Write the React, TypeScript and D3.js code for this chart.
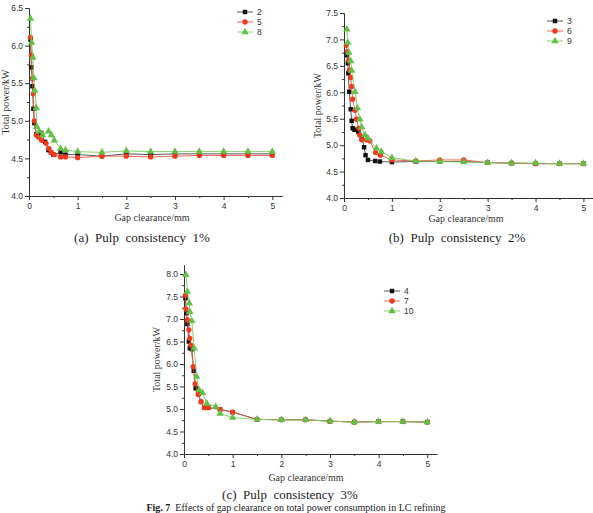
import React, { useEffect, useRef } from 'react';
import * as d3 from 'd3';

// (a) pulp consistency 1%  -> runs 2, 5, 8
const gapA2 = [0.03, 0.05, 0.07, 0.09, 0.11, 0.15, 0.2, 0.25, 0.33, 0.4, 0.45, 0.5, 0.65, 0.75, 1, 1.5, 2, 2.5, 3, 3.5, 4, 4.5, 5];
const powerA2 = [6.08, 5.71, 5.46, 5.16, 4.97, 4.82, 4.82, 4.84, 4.72, 4.61, 4.58, 4.55, 4.58, 4.55, 4.55, 4.53, 4.56, 4.55, 4.56, 4.56, 4.56, 4.56, 4.56];
const gapA5 = [0.03, 0.05, 0.07, 0.09, 0.11, 0.15, 0.2, 0.26, 0.35, 0.41, 0.46, 0.52, 0.65, 0.75, 1, 1.5, 2, 2.5, 3, 3.5, 4, 4.5, 5];
const powerA5 = [6.11, 5.87, 5.56, 5.36, 5.0, 4.81, 4.78, 4.74, 4.7, 4.63, 4.58, 4.55, 4.52, 4.52, 4.51, 4.53, 4.53, 4.52, 4.53, 4.54, 4.54, 4.54, 4.54];
const gapA8 = [0.03, 0.055, 0.08, 0.1, 0.12, 0.15, 0.16, 0.21, 0.28, 0.4, 0.46, 0.52, 0.65, 0.75, 1, 1.5, 2, 2.5, 3, 3.5, 4, 4.5, 5];
const powerA8 = [6.36, 6.04, 5.84, 5.57, 5.4, 5.17, 4.92, 4.86, 4.81, 4.86, 4.81, 4.74, 4.63, 4.61, 4.59, 4.58, 4.6, 4.59, 4.59, 4.59, 4.59, 4.59, 4.59];
const namesA = ['2', '5', '8'];

// (b) pulp consistency 2%  -> runs 3, 6, 9
const gapB3 = [0.06, 0.08, 0.09, 0.11, 0.14, 0.16, 0.18, 0.22, 0.27, 0.3, 0.37, 0.42, 0.45, 0.5, 0.65, 0.75, 1, 1.5, 2, 2.5, 3, 3.5, 4, 4.5, 5];
const powerB3 = [6.7, 6.55, 6.36, 6.01, 5.68, 5.46, 5.32, 5.29, 5.29, 5.25, 5.15, 4.96, 4.81, 4.72, 4.7, 4.69, 4.68, 4.69, 4.69, 4.69, 4.67, 4.66, 4.65, 4.65, 4.65];
const gapB6 = [0.05, 0.07, 0.1, 0.12, 0.14, 0.16, 0.18, 0.23, 0.26, 0.31, 0.33, 0.37, 0.47, 0.54, 0.66, 0.76, 1, 1.5, 2, 2.5, 3, 3.5, 4, 4.5, 5];
const powerB6 = [6.89, 6.77, 6.6, 6.42, 6.28, 6.11, 5.87, 5.66, 5.49, 5.32, 5.19, 5.1, 5.1, 5.08, 4.86, 4.81, 4.72, 4.7, 4.72, 4.72, 4.67, 4.66, 4.65, 4.65, 4.65];
const gapB9 = [0.06, 0.08, 0.1, 0.14, 0.16, 0.23, 0.28, 0.33, 0.37, 0.44, 0.5, 0.68, 0.78, 1, 1.5, 2, 2.5, 3, 3.5, 4, 4.5, 5];
const powerB9 = [7.19, 6.94, 6.75, 6.59, 6.41, 6.01, 5.7, 5.49, 5.34, 5.19, 5.13, 4.94, 4.88, 4.76, 4.7, 4.69, 4.68, 4.67, 4.66, 4.66, 4.65, 4.65];
const namesB = ['3', '6', '9'];

// (c) pulp consistency 3%  -> runs 4, 7, 10
const gapC4 = [0.03, 0.05, 0.07, 0.1, 0.12, 0.16, 0.2, 0.24, 0.3, 0.35, 0.42, 0.5, 0.74, 1, 1.5, 2, 2.5, 3, 3.5, 4, 4.5, 5];
const powerC4 = [7.46, 7.13, 6.89, 6.5, 6.35, 6.33, 5.85, 5.46, 5.33, 5.16, 5.03, 5.03, 4.99, 4.93, 4.77, 4.76, 4.76, 4.73, 4.71, 4.72, 4.72, 4.71];
const gapC7 = [0.03, 0.04, 0.07, 0.1, 0.12, 0.14, 0.19, 0.23, 0.29, 0.35, 0.42, 0.5, 0.74, 1, 1.5, 2, 2.5, 3, 3.5, 4, 4.5, 5];
const powerC7 = [7.53, 7.22, 6.98, 6.76, 6.57, 6.42, 5.94, 5.56, 5.33, 5.16, 5.03, 5.03, 4.99, 4.93, 4.77, 4.76, 4.76, 4.73, 4.71, 4.72, 4.72, 4.71];
const gapC10 = [0.04, 0.07, 0.11, 0.12, 0.16, 0.21, 0.26, 0.31, 0.38, 0.47, 0.65, 0.74, 1, 1.5, 2, 2.5, 3, 3.5, 4, 4.5, 5];
const powerC10 = [7.98, 7.61, 7.35, 7.16, 6.96, 6.35, 5.72, 5.42, 5.36, 5.12, 5.05, 4.9, 4.81, 4.77, 4.76, 4.76, 4.73, 4.71, 4.72, 4.72, 4.71];
const namesC = ['4', '7', '10'];

const xMajor = [0, 1, 2, 3, 4, 5];
const xMinor = [0.5, 1.5, 2.5, 3.5, 4.5];

const COLORS = ['#111111', '#f2381d', '#63c046'];
const LINE_COLORS = ['#444444', '#f2553c', '#7acb5f'];
const SHAPES = [d3.symbolSquare, d3.symbolCircle, d3.symbolTriangle];
const SIZES = [20, 22, 24];

const SANS = "'Liberation Sans', Arial, sans-serif";
const SERIF = "'Liberation Serif', 'Times New Roman', serif";

interface Panel {
    series: { x: number[]; y: number[] }[];
    names: string[];
    yTop: number;
    x0: number; x1: number;   // pixel span of x axis
    y0: number; y1: number;   // pixel span of y axis (bottom, top)
    yTitleX: number;
    xTitle: [number, number];
    legend: [number, number];
    caption: string;
    captionPos: [number, number];
}

const panels: Panel[] = [
    {
        series: [{ x: gapA2, y: powerA2 }, { x: gapA5, y: powerA5 }, { x: gapA8, y: powerA8 }],
        names: namesA, yTop: 6.5,
        x0: 29, x1: 282, y0: 196, y1: 8,
        yTitleX: 5, xTitle: [152, 221], legend: [237, 12],
        caption: '(a)  Pulp  consistency  1%', captionPos: [142, 242],
    },
    {
        series: [{ x: gapB3, y: powerB3 }, { x: gapB6, y: powerB6 }, { x: gapB9, y: powerB9 }],
        names: namesB, yTop: 7.5,
        x0: 344, x1: 593, y0: 198, y1: 13,
        yTitleX: 317, xTitle: [466, 222], legend: [547, 21],
        caption: '(b)  Pulp  consistency  2%', captionPos: [457, 242],
    },
    {
        series: [{ x: gapC4, y: powerC4 }, { x: gapC7, y: powerC7 }, { x: gapC10, y: powerC10 }],
        names: namesC, yTop: 8.2,
        x0: 184, x1: 437, y0: 454, y1: 265,
        yTitleX: 156, xTitle: [306, 481], legend: [384, 291],
        caption: '(c)  Pulp  consistency  3%', captionPos: [290, 499],
    },
];

function drawPanel(g: d3.Selection<SVGGElement, unknown, null, undefined>, p: Panel) {
    const x = d3.scaleLinear().domain([0, 5.2]).range([p.x0, p.x1]);
    const y = d3.scaleLinear().domain([4, p.yTop]).range([p.y0, p.y1]);

    const yMajor = d3.range(4, p.yTop + 0.001, 0.5);
    const yMinor = d3.range(4.25, p.yTop, 0.5);

    const style = (sel: any) => {
        sel.select('.domain').attr('stroke', '#333').attr('stroke-width', 1);
        sel.selectAll('.tick line').attr('stroke', '#333');
        sel.selectAll('.tick text')
            .attr('fill', '#333')
            .style('font-family', SANS)
            .style('font-size', '8.5px');
    };

    // x axis
    g.append('g')
        .attr('transform', `translate(0,${p.y0})`)
        .call(d3.axisBottom(x).tickValues(xMinor).tickSize(2).tickSizeOuter(0).tickFormat(() => ''))
        .call(style);
    g.append('g')
        .attr('transform', `translate(0,${p.y0})`)
        .call(d3.axisBottom(x).tickValues(xMajor).tickSize(4).tickSizeOuter(0).tickPadding(3).tickFormat(d3.format('d')))
        .call(style);

    // y axis
    g.append('g')
        .attr('transform', `translate(${p.x0},0)`)
        .call(d3.axisLeft(y).tickValues(yMinor).tickSize(2).tickSizeOuter(0).tickFormat(() => ''))
        .call(style);
    g.append('g')
        .attr('transform', `translate(${p.x0},0)`)
        .call(d3.axisLeft(y).tickValues(yMajor).tickSize(4).tickSizeOuter(0).tickPadding(2).tickFormat(d3.format('.1f')))
        .call(style);

    // axis titles
    g.append('text')
        .attr('transform', `translate(${p.yTitleX},${(p.y0 + p.y1) / 2}) rotate(-90)`)
        .attr('text-anchor', 'middle')
        .attr('dy', '0.35em')
        .style('font-family', SERIF)
        .style('font-size', '10px')
        .attr('fill', '#333')
        .text('Total power/kW');
    g.append('text')
        .attr('x', p.xTitle[0])
        .attr('y', p.xTitle[1])
        .attr('text-anchor', 'middle')
        .style('font-family', SERIF)
        .style('font-size', '10px')
        .attr('fill', '#333')
        .text('Gap clearance/mm');

    // series
    p.series.forEach((s, i) => {
        const pts = s.x.map((v, k) => [v, s.y[k]] as [number, number]);
        const line = d3.line<[number, number]>().x(d => x(d[0])).y(d => y(d[1]));
        g.append('path')
            .datum(pts)
            .attr('fill', 'none')
            .attr('stroke', LINE_COLORS[i])
            .attr('stroke-width', 0.9)
            .attr('d', line);
        const sym = d3.symbol().type(SHAPES[i]).size(SIZES[i]);
        g.append('g').selectAll('path')
            .data(pts)
            .join('path')
            .attr('transform', d => `translate(${x(d[0])},${y(d[1])})`)
            .attr('d', sym as any)
            .attr('fill', COLORS[i]);
    });

    // legend
    const [lx, ly] = p.legend;
    p.names.forEach((name, i) => {
        const row = g.append('g').attr('transform', `translate(${lx},${ly + i * 10})`);
        row.append('line')
            .attr('x1', 0).attr('x2', 16)
            .attr('stroke', LINE_COLORS[i])
            .attr('stroke-width', 0.9);
        row.append('path')
            .attr('transform', 'translate(8,0)')
            .attr('d', d3.symbol().type(SHAPES[i]).size(SIZES[i])() as string)
            .attr('fill', COLORS[i]);
        row.append('text')
            .attr('x', 20)
            .attr('dy', '0.35em')
            .style('font-family', SANS)
            .style('font-size', '8.5px')
            .attr('fill', '#333')
            .text(name);
    });

    // caption
    g.append('text')
        .attr('x', p.captionPos[0])
        .attr('y', p.captionPos[1])
        .attr('text-anchor', 'middle')
        .attr('xml:space', 'preserve')
        .style('white-space', 'pre')
        .style('font-family', SERIF)
        .style('font-size', '13px')
        .attr('fill', '#222')
        .text(p.caption);
}

export default function App() {
    const svgRef = useRef<SVGSVGElement>(null);

    useEffect(() => {
        if (!svgRef.current) return;
        const svg = d3.select(svgRef.current);
        svg.selectAll('*').remove();

        svg.append('rect').attr('width', 593).attr('height', 513).attr('fill', '#fff');

        panels.forEach(p => drawPanel(svg.append('g') as any, p));

        // figure title along the bottom edge
        const t = svg.append('text')
            .attr('x', 296)
            .attr('y', 511)
            .attr('text-anchor', 'middle')
            .attr('xml:space', 'preserve')
            .style('white-space', 'pre')
            .style('font-family', SERIF)
            .style('font-size', '10px')
            .attr('fill', '#222');
        t.append('tspan').style('font-weight', 'bold').text('Fig. 7  ');
        t.append('tspan').text('Effects of gap clearance on total power consumption in LC refining');
    }, []);

    return (
        <svg
            ref={svgRef}
            width={593}
            height={513}
            style={{ position: 'absolute', left: 0, top: 0, background: '#fff' }}
        />
    );
}
